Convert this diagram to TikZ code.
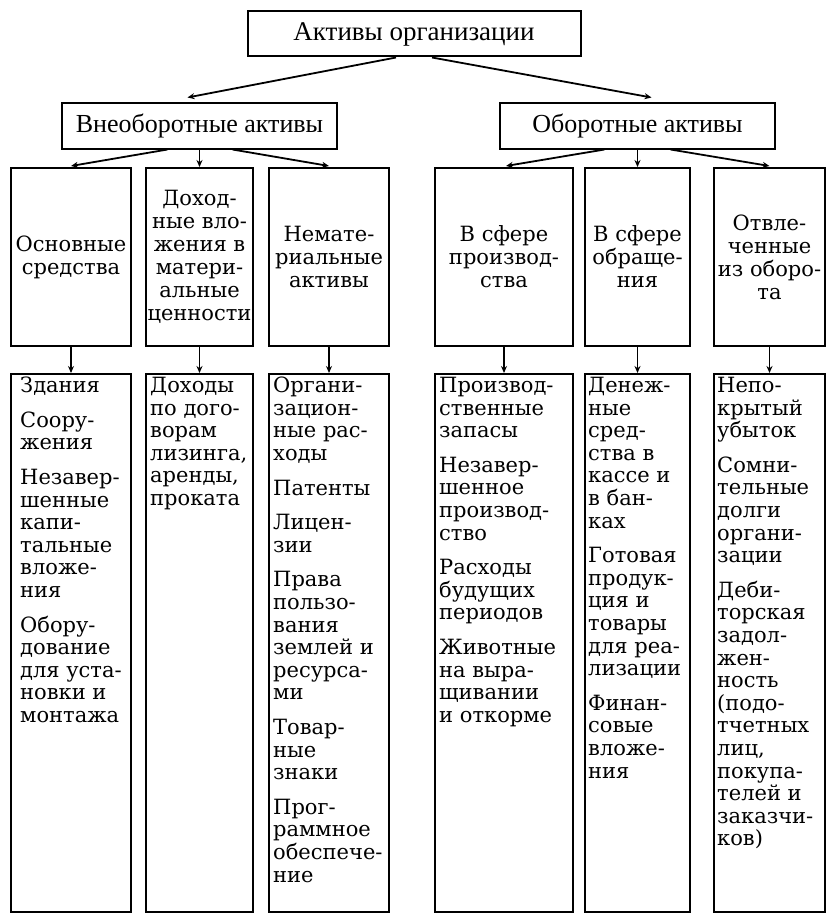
\documentclass[tikz,border=0pt]{standalone}
\usepackage{fontspec}
\setmainfont{DejaVu Serif}
\newfontfamily\topfont{Liberation Serif}
\usetikzlibrary{arrows.meta,calc}
\begin{document}
\begin{tikzpicture}[x=1pt,y=-1pt,
  box/.style={draw,line width=2pt,inner sep=0pt},
  hdr/.style={box,font=\topfont\fontsize{26}{28}\selectfont},
  midbox/.style={box,align=center,minimum height=178pt,font=\fontsize{21}{23}\selectfont},
  listbox/.style={box,minimum height=538pt},
  listtxt/.style={anchor=north west,align=left,inner sep=0pt,font=\fontsize{21}{22.6}\selectfont},
  arr/.style={line width=1.8pt,-{Stealth[length=7pt,width=6pt]}}]
\useasboundingbox (0,0) rectangle (827,915);

% level 1
\node[hdr,minimum width=333pt,minimum height=45pt,font=\topfont\fontsize{27}{29}\selectfont] (root) at (414,34) {Активы организации};
% level 2
\node[hdr,minimum width=275pt,minimum height=45pt] (nonc) at (199.5,126) {Внеоборотные активы};
\node[hdr,minimum width=275pt,minimum height=45pt] (cur) at (637.5,126) {Оборотные активы};

% level 3
\node[midbox,minimum width=120pt] (ma) at (71,257) {Основные\\средства};
\node[midbox,minimum width=107pt] (mb) at (199.5,257) {Доход-\\ные вло-\\жения в\\матери-\\альные\\ценности};
\node[midbox,minimum width=120pt] (mc) at (329,257) {Немате-\\риальные\\активы};
\node[midbox,minimum width=138pt] (md) at (504,257) {В сфере\\производ-\\ства};
\node[midbox,minimum width=105pt] (me) at (637.5,257) {В сфере\\обраще-\\ния};
\node[midbox,minimum width=111pt] (mf) at (769.5,257) {Отвле-\\ченные\\из оборо-\\та};

% level 4 boxes
\node[listbox,minimum width=120pt] (la) at (71,643) {};
\node[listbox,minimum width=107pt] (lb) at (199.5,643) {};
\node[listbox,minimum width=120pt] (lc) at (329,643) {};
\node[listbox,minimum width=138pt] (ld) at (504,643) {};
\node[listbox,minimum width=105pt] (le) at (637.5,643) {};
\node[listbox,minimum width=111pt] (lf) at (769.5,643) {};

% level 4 texts
\node[listtxt] (ta) at ($(la.north west)+(10,4)$) {Здания\\[12pt]Соору-\\жения\\[12pt]Незавер-\\шенные\\капи-\\тальные\\вложе-\\ния\\[12pt]Обору-\\дование\\для уста-\\новки и\\монтажа};
\node[listtxt] (tb) at ($(lb.north west)+(5,4)$) {Доходы\\по дого-\\ворам\\лизинга,\\аренды,\\проката};
\node[listtxt] (tc) at ($(lc.north west)+(5,4)$) {Органи-\\зацион-\\ные рас-\\ходы\\[12pt]Патенты\\[12pt]Лицен-\\зии\\[12pt]Права\\пользо-\\вания\\землей и\\ресурса-\\ми\\[12pt]Товар-\\ные\\знаки\\[12pt]Прог-\\раммное\\обеспече-\\ние};
\node[listtxt] (td) at ($(ld.north west)+(5,4)$) {Производ-\\ственные\\запасы\\[12pt]Незавер-\\шенное\\производ-\\ство\\[12pt]Расходы\\будущих\\периодов\\[12pt]Животные\\на выра-\\щивании\\и откорме};
\node[listtxt] (te) at ($(le.north west)+(4,4)$) {Денеж-\\ные\\сред-\\ства в\\кассе и\\в бан-\\ках\\[12pt]Готовая\\продук-\\ция и\\товары\\для реа-\\лизации\\[12pt]Финан-\\совые\\вложе-\\ния};
\node[listtxt] (tf) at ($(lf.north west)+(4,4)$) {Непо-\\крытый\\убыток\\[12pt]Сомни-\\тельные\\долги\\органи-\\зации\\[12pt]Деби-\\торская\\задол-\\жен-\\ность\\(подо-\\тчетных\\лиц,\\покупа-\\телей и\\заказчи-\\ков)};

% connectors level 1 -> 2
\draw[arr] ($(root.south)+(-18,0)$) -- ($(nonc.north)+(-12,-5)$);
\draw[arr] ($(root.south)+(18,0)$) -- ($(cur.north)+(14,-5)$);

% level 2 -> 3
\draw[arr] ($(nonc.south)+(-32,0)$) -- ($(ma.north)+(0,-1)$);
\draw[arr] (nonc.south) -- (mb.north);
\draw[arr] ($(nonc.south)+(33,0)$) -- ($(mc.north)+(0,-1)$);
\draw[arr] ($(cur.south)+(-33,0)$) -- ($(md.north)+(2,-1)$);
\draw[arr] (cur.south) -- (me.north);
\draw[arr] ($(cur.south)+(33,0)$) -- ($(mf.north)+(0,-1)$);

% level 3 -> 4
\draw[arr] (ma.south) -- (la.north);
\draw[arr] (mb.south) -- (lb.north);
\draw[arr] (mc.south) -- (lc.north);
\draw[arr] (md.south) -- (ld.north);
\draw[arr] (me.south) -- (le.north);
\draw[arr] (mf.south) -- (lf.north);
\end{tikzpicture}
\end{document}
